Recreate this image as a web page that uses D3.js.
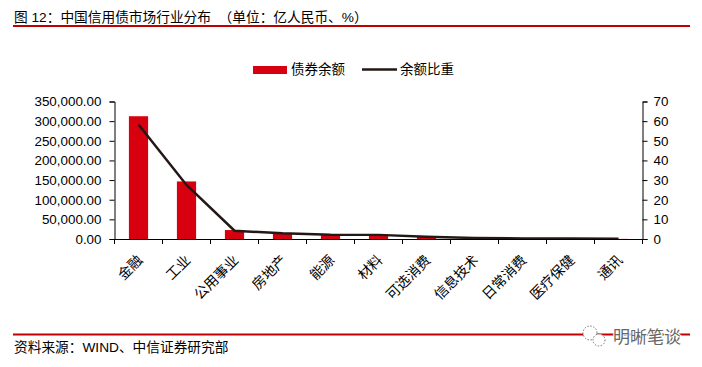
<!DOCTYPE html>
<html>
<head>
<meta charset="utf-8">
<script src="https://cdnjs.cloudflare.com/ajax/libs/d3/7.8.5/d3.min.js"></script>
<style>
  html, body { margin: 0; padding: 0; background: #fff; }
  text { font-family: "Liberation Sans", "Noto Sans CJK SC", sans-serif; fill: #000; white-space: pre; }
</style>
</head>
<body>
<div id="chart"></div>
<script>
const categories = ["金融", "工业", "公用事业", "房地产", "能源", "材料", "可选消费", "信息技术", "日常消费", "医疗保健", "通讯"];
const balance = [312500, 146500, 22800, 14500, 11000, 10500, 6000, 2000, 1000, 1000, 300];
const share = [58.3, 27.5, 4.2, 2.9, 2.2, 2.1, 1.2, 0.5, 0.3, 0.3, 0.1];
const leftTicks = [0, 50000, 100000, 150000, 200000, 250000, 300000, 350000];
const rightTicks = [0, 10, 20, 30, 40, 50, 60, 70];

const red = "#d7000f";
const rule = "#c00000";
const lineColor = "#231815";

const width = 702, height = 367;
const margin = { top: 101.5, right: 59.5, bottom: 128, left: 114.5 };
const plotW = width - margin.left - margin.right;
const plotH = height - margin.top - margin.bottom;

const svg = d3.select("#chart").append("svg")
  .attr("width", width)
  .attr("height", height)
  .style("display", "block");

// title and source
svg.append("text").attr("x", 14).attr("y", 22).attr("font-size", "13.7px")
  .text("图 12：中国信用债市场行业分布  （单位：亿人民币、%）");
svg.append("line").attr("x1", 13).attr("x2", 690).attr("y1", 26).attr("y2", 26)
  .attr("stroke", rule).attr("stroke-width", 2);
svg.append("line").attr("x1", 13).attr("x2", 690).attr("y1", 334.5).attr("y2", 334.5)
  .attr("stroke", rule).attr("stroke-width", 2);
svg.append("text").attr("x", 14).attr("y", 352).attr("font-size", "13.7px")
  .text("资料来源：WIND、中信证券研究部");

const g = svg.append("g").attr("transform", `translate(${margin.left},${margin.top})`);

const x = d3.scaleBand().domain(categories).range([0, plotW]).paddingInner(0.6).paddingOuter(0.3);
const yLeft = d3.scaleLinear().domain([0, 350000]).range([plotH, 0]);
const yRight = d3.scaleLinear().domain([0, 70]).range([plotH, 0]);

g.selectAll(".bar").data(categories).enter().append("rect")
  .attr("class", "bar")
  .attr("x", d => x(d))
  .attr("width", x.bandwidth())
  .attr("y", (d, i) => yLeft(balance[i]))
  .attr("height", (d, i) => plotH - yLeft(balance[i]))
  .attr("fill", red);

const line = d3.line()
  .x((d, i) => x(categories[i]) + x.bandwidth() / 2)
  .y(d => yRight(d));

g.append("path").datum(share)
  .attr("d", line)
  .attr("fill", "none")
  .attr("stroke", lineColor)
  .attr("stroke-width", 2.5);

// axes
const leftAxis = d3.axisLeft(yLeft).tickValues(leftTicks).tickSize(5).tickPadding(8)
  .tickFormat(d3.format(",.2f"));
const rightAxis = d3.axisRight(yRight).tickValues(rightTicks).tickSize(5).tickPadding(6)
  .tickFormat(d3.format("d"));
const bottomAxis = d3.axisBottom(x).tickSize(0).tickPadding(0).tickFormat("");

g.append("g").attr("class", "axis").call(leftAxis);
g.append("g").attr("class", "axis").attr("transform", `translate(${plotW},0)`).call(rightAxis);
g.append("g").attr("class", "axis").attr("transform", `translate(0,${plotH})`).call(bottomAxis);

g.selectAll(".axis path, .axis line").attr("stroke", "#000").attr("stroke-width", 1);
g.selectAll(".axis text").attr("font-size", "13.4px").attr("fill", "#000")
  .style("font-family", '"Liberation Sans", sans-serif');

// x ticks sit between the categories
g.selectAll(".cat-tick").data(d3.range(categories.length + 1)).enter().append("line")
  .attr("class", "cat-tick")
  .attr("x1", i => i * x.step())
  .attr("x2", i => i * x.step())
  .attr("y1", plotH)
  .attr("y2", plotH + 5)
  .attr("stroke", "#000");

g.selectAll(".cat-label").data(categories).enter().append("text")
  .attr("class", "cat-label")
  .attr("text-anchor", "end")
  .attr("font-size", "14px")
  .attr("transform", d => `translate(${x(d) + x.bandwidth() / 2 + 5},${plotH + 22}) rotate(-45)`)
  .text(d => d);

// legend
svg.append("rect").attr("x", 253).attr("y", 66).attr("width", 34).attr("height", 8).attr("fill", red);
svg.append("text").attr("x", 291).attr("y", 74).attr("font-size", "13.5px").text("债券余额");
svg.append("line").attr("x1", 362).attr("x2", 397).attr("y1", 69.5).attr("y2", 69.5)
  .attr("stroke", lineColor).attr("stroke-width", 2.5);
svg.append("text").attr("x", 400).attr("y", 74).attr("font-size", "13.5px").text("余额比重");

// watermark
const mark = svg.append("g").attr("fill", "#fff").attr("stroke", "#777").attr("stroke-dasharray", "1.5,1.5");
mark.append("circle").attr("cx", 590).attr("cy", 333).attr("r", 7);
mark.append("circle").attr("cx", 599).attr("cy", 340).attr("r", 6);
svg.append("text").attr("x", 613).attr("y", 343).attr("font-size", "17px")
  .attr("stroke", "#fff").attr("stroke-width", 2).attr("paint-order", "stroke")
  .style("fill", "#666")
  .text("明晰笔谈");
</script>
</body>
</html>
